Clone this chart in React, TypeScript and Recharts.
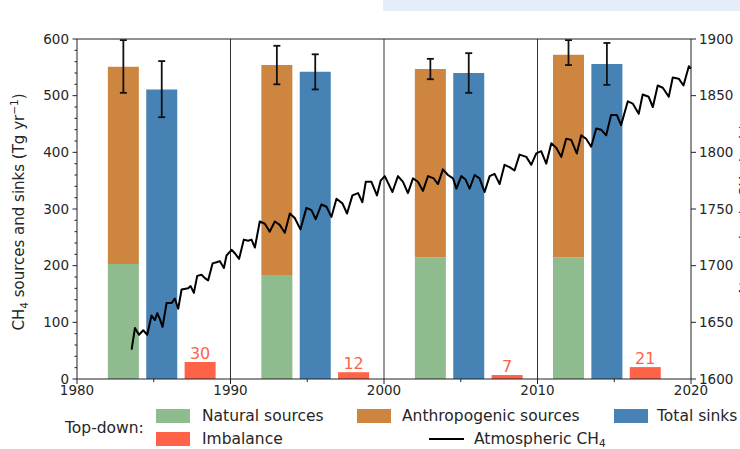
import React from "react";
import {
  ComposedChart,
  Bar,
  Line,
  XAxis,
  YAxis,
  ReferenceLine,
  ErrorBar,
  LabelList,
} from "recharts";

const FONT = "DejaVu Sans";
const AXIS = "#222";
const TEXT = "#262626";
const GREEN = "#8fbc8f";
const ORANGE = "#cd853f";
const BLUE = "#4682b4";
const RED = "#ff6347";

// decade panels
const PERIODS = ["1980-1989", "1990-1999", "2000 - 2009", "2008-2017"];
const PERIOD_TITLE_X = [1985.75, 1995.75, 2006, 2015.75];
const DIVIDERS = [1990, 2000, 2010];

// bar positions (year) and values (Tg/yr)
const SOURCE_X = [1983, 1993, 2003, 2012];
const SINK_X = [1985.5, 1995.5, 2005.5, 2014.5];
const IMBALANCE_X = [1988, 1998, 2008, 2017];

const NATURAL = [203, 182, 215, 215];
const ANTHROPOGENIC = [348, 372, 332, 357];
const SOURCE_LOW = [505, 520, 529, 554];
const SOURCE_HIGH = [598, 588, 565, 598];
const SINKS = [511, 542, 540, 556];
const SINK_LOW = [462, 511, 505, 519];
const SINK_HIGH = [561, 573, 575, 593];
const IMBALANCE = [30, 12, 7, 21];

const X_TICKS = [1980, 1985, 1990, 1995, 2000, 2005, 2010, 2015, 2020];
const LEFT_TICKS = [
  0, 20, 40, 60, 80, 100, 120, 140, 160, 180, 200, 220, 240, 260, 280, 300,
  320, 340, 360, 380, 400, 420, 440, 460, 480, 500, 520, 540, 560, 580, 600,
];
const RIGHT_TICKS = [1600, 1650, 1700, 1750, 1800, 1850, 1900];

// atmospheric CH4 (ppb)
const CH4_YEAR = [
  1983.56, 1983.78, 1984.04, 1984.32, 1984.58, 1984.86, 1985.08, 1985.23, 1985.4, 1985.58,
  1985.84, 1986.17, 1986.38, 1986.6, 1986.82, 1987.25, 1987.41, 1987.62, 1987.84, 1988.12,
  1988.34, 1988.55, 1988.84, 1989.1, 1989.32, 1989.58, 1989.75, 1990.08, 1990.29, 1990.57,
  1990.88, 1991.16, 1991.38, 1991.6, 1991.92, 1992.25, 1992.57, 1992.9, 1993.22, 1993.55,
  1993.88, 1994.2, 1994.57, 1994.96, 1995.29, 1995.57, 1995.94, 1996.27, 1996.59, 1996.92,
  1997.31, 1997.61, 1997.96, 1998.33, 1998.61, 1998.83, 1999.2, 1999.56, 1999.8, 2000.07,
  2000.57, 2000.93, 2001.26, 2001.58, 2001.91, 2002.23, 2002.56, 2002.89, 2003.26, 2003.54,
  2003.86, 2004.19, 2004.52, 2004.74, 2005.06, 2005.34, 2005.6, 2005.93, 2006.25, 2006.58,
  2006.91, 2007.23, 2007.56, 2007.88, 2008.21, 2008.53, 2008.86, 2009.3, 2009.62, 2009.95,
  2010.27, 2010.6, 2010.93, 2011.25, 2011.58, 2011.9, 2012.23, 2012.59, 2012.88, 2013.2,
  2013.53, 2013.86, 2014.18, 2014.51, 2014.83, 2015.2, 2015.48, 2015.92, 2016.24, 2016.63,
  2016.89, 2017.28, 2017.55, 2017.87, 2018.2, 2018.59, 2018.85, 2019.24, 2019.55, 2019.9,
  2020.04,
];
const CH4_PPB = [
  1626, 1645, 1639, 1643, 1639, 1656, 1652, 1658, 1653, 1646,
  1667, 1667, 1671, 1662, 1679, 1680, 1682, 1676, 1691, 1692,
  1689, 1687, 1702, 1703, 1704, 1698, 1709, 1714, 1711, 1706,
  1723, 1722, 1723, 1716, 1739, 1737, 1730, 1739, 1736, 1729,
  1746, 1742, 1732, 1751, 1749, 1741, 1754, 1752, 1743, 1759,
  1755, 1746, 1762, 1764, 1756, 1774, 1774, 1762, 1775, 1779,
  1765, 1779, 1774, 1764, 1777, 1774, 1766, 1779, 1777, 1772,
  1785, 1780, 1777, 1768, 1779, 1776, 1768, 1780, 1777, 1765,
  1779, 1781, 1772, 1789, 1787, 1784, 1798, 1796, 1789, 1799,
  1801, 1790, 1808, 1804, 1796, 1812, 1811, 1799, 1815, 1812,
  1805, 1821, 1820, 1815, 1833, 1833, 1824, 1845, 1843, 1834,
  1851, 1849, 1840, 1859, 1857, 1849, 1866, 1865, 1859, 1876,
  1874,
];

const barRows: any[] = [];
SOURCE_X.forEach((x, i) => {
  const total = NATURAL[i] + ANTHROPOGENIC[i];
  barRows.push({
    year: x,
    natural: NATURAL[i],
    anthropogenic: ANTHROPOGENIC[i],
    srcErr: [total - SOURCE_LOW[i], SOURCE_HIGH[i] - total],
  });
  barRows.push({
    year: SINK_X[i],
    sinks: SINKS[i],
    sinkErr: [SINKS[i] - SINK_LOW[i], SINK_HIGH[i] - SINKS[i]],
  });
  barRows.push({ year: IMBALANCE_X[i], imbalance: IMBALANCE[i] });
});

const ch4Rows = CH4_YEAR.map((year, i) => ({ year, ppb: CH4_PPB[i] }));

const LeftTick = (props: any) => {
  const { x, y, payload } = props;
  const major = payload.value % 100 === 0;
  const axisX = x + 8;
  return (
    <g>
      <line x1={axisX} x2={axisX - (major ? 4.5 : 2.5)} y1={y} y2={y} stroke={AXIS} />
      {major && (
        <text x={x} y={y} dy="0.355em" textAnchor="end" fontSize={13.5} fill={TEXT} fontFamily={FONT}>
          {payload.value}
        </text>
      )}
    </g>
  );
};

const BottomTick = (props: any) => {
  const { x, y, payload } = props;
  const major = payload.value % 10 === 0;
  const axisY = y - 6;
  return (
    <g>
      <line x1={x} x2={x} y1={axisY} y2={axisY + (major ? 5 : 3)} stroke={AXIS} />
      {major && (
        <text x={x} y={y} dy="0.71em" textAnchor="middle" fontSize={13.5} fill={TEXT} fontFamily={FONT}>
          {payload.value}
        </text>
      )}
    </g>
  );
};

const leftTitle = () => (
  <text
    x={24}
    y={212}
    transform="rotate(-90 24 212)"
    textAnchor="middle"
    fontSize={15}
    fill={TEXT}
    fontFamily={FONT}
  >
    CH<tspan dy={4} fontSize={10.5}>4</tspan>
    <tspan dy={-4}> sources and sinks (Tg yr</tspan>
    <tspan dy={-6} fontSize={10.5}>−1</tspan>
    <tspan dy={6}>)</tspan>
  </text>
);

// right-hand title sits mostly past the picture's edge, as in the source figure
const rightTitle = () => (
  <text
    x={751}
    y={210}
    transform="rotate(-90 751 210)"
    textAnchor="middle"
    fontSize={15}
    fill={TEXT}
    fontFamily={FONT}
  >
    Atmospheric CH<tspan dy={4} fontSize={10.5}>4</tspan>
    <tspan dy={-4}> (ppb)</tspan>
  </text>
);

const imbalanceLabel = (props: any) => {
  const { x, y, width, value } = props;
  if (value == null) return null;
  return (
    <text x={x + width / 2} y={y - 3} textAnchor="middle" fontSize={16} fill={RED} fontFamily={FONT}>
      {value}
    </text>
  );
};

const Swatch = ({ left, top, color }: { left: number; top: number; color: string }) => (
  <div style={{ position: "absolute", left, top, width: 34, height: 14, background: color }} />
);

const Words = ({ left, top, children }: { left: number; top: number; children: React.ReactNode }) => (
  <div style={{ position: "absolute", left, top, lineHeight: "16px", whiteSpace: "nowrap" }}>{children}</div>
);

export default function App() {
  return (
    <div style={{ position: "absolute", left: 0, top: 0, width: 740, height: 449, background: "#fff", fontFamily: FONT, overflow: "hidden" }}>
      <div
        style={{
          position: "absolute",
          left: 383,
          top: 0,
          width: 357,
          height: 11,
          background: "#e4edf9",
        }}
      />
      <ComposedChart
        width={740}
        height={449}
        data={barRows}
        margin={{ top: 0, right: 0, bottom: 40, left: 27 }}
        style={{ position: "absolute", left: 0, top: 0 }}
      >
        <XAxis
          xAxisId="titles"
          orientation="top"
          type="number"
          domain={[1980, 2020]}
          ticks={PERIOD_TITLE_X}
          tickFormatter={(v: number, i: number) => PERIODS[i]}
          interval={0}
          height={39}
          tickLine={false}
          tickSize={6}
          tickMargin={2}
          axisLine={{ stroke: AXIS }}
          tick={{ fontSize: 15.5, fill: TEXT, fontFamily: FONT }}
        />
        <XAxis
          type="number"
          dataKey="year"
          domain={[1980, 2020]}
          ticks={X_TICKS}
          interval={0}
          height={30}
          tickLine={false}
          tickSize={5}
          tickMargin={1}
          axisLine={{ stroke: AXIS }}
          tick={<BottomTick />}
        />
        <XAxis xAxisId="line" type="number" dataKey="year" domain={[1980, 2020]} hide />
        <YAxis
          yAxisId="left"
          orientation="left"
          width={50}
          domain={[0, 600]}
          ticks={LEFT_TICKS}
          interval={0}
          tickLine={false}
          tickSize={4}
          tickMargin={4}
          axisLine={{ stroke: AXIS }}
          tick={<LeftTick />}
          label={leftTitle}
        />
        <YAxis
          yAxisId="right"
          orientation="right"
          width={49}
          domain={[1600, 1900]}
          ticks={RIGHT_TICKS}
          interval={0}
          tickSize={5}
          tickMargin={3}
          axisLine={{ stroke: AXIS }}
          tickLine={{ stroke: AXIS }}
          tick={{ fontSize: 13.5, fill: TEXT, fontFamily: FONT }}
          label={rightTitle}
        />
        {DIVIDERS.map((d) => (
          <ReferenceLine key={d} x={d} yAxisId="left" stroke="#333" strokeWidth={1} />
        ))}
        <Bar yAxisId="left" dataKey="natural" stackId="a" fill={GREEN} barSize={31} isAnimationActive={false} />
        <Bar yAxisId="left" dataKey="anthropogenic" stackId="a" fill={ORANGE} barSize={31} isAnimationActive={false}>
          <ErrorBar dataKey="srcErr" width={3.5} strokeWidth={1.8} stroke="#111" direction="y" />
        </Bar>
        <Bar yAxisId="left" dataKey="sinks" stackId="a" fill={BLUE} barSize={31} isAnimationActive={false}>
          <ErrorBar dataKey="sinkErr" width={3.5} strokeWidth={1.8} stroke="#111" direction="y" />
        </Bar>
        <Bar yAxisId="left" dataKey="imbalance" stackId="a" fill={RED} barSize={31} isAnimationActive={false}>
          <LabelList dataKey="imbalance" content={imbalanceLabel} />
        </Bar>
        <Line
          xAxisId="line"
          yAxisId="right"
          data={ch4Rows}
          dataKey="ppb"
          stroke="#000"
          strokeWidth={2}
          strokeLinejoin="round"
          dot={false}
          isAnimationActive={false}
        />
      </ComposedChart>

      <div style={{ position: "absolute", left: 0, top: 0, fontSize: 15.5, color: TEXT }}>
        <Words left={65} top={420}>Top-down:</Words>
        <Swatch left={156} top={409} color={GREEN} />
        <Words left={202} top={408}>Natural sources</Words>
        <Swatch left={357} top={409} color={ORANGE} />
        <Words left={402} top={408}>Anthropogenic sources</Words>
        <Swatch left={614} top={409} color={BLUE} />
        <Words left={657} top={408}>Total sinks</Words>
        <Swatch left={156} top={432} color={RED} />
        <Words left={202} top={431}>Imbalance</Words>
        <div style={{ position: "absolute", left: 429, top: 438, width: 35, height: 2, background: "#000" }} />
        <Words left={474} top={431}>
          Atmospheric CH<sub style={{ fontSize: 10.5, verticalAlign: "-3px" }}>4</sub>
        </Words>
      </div>
    </div>
  );
}
